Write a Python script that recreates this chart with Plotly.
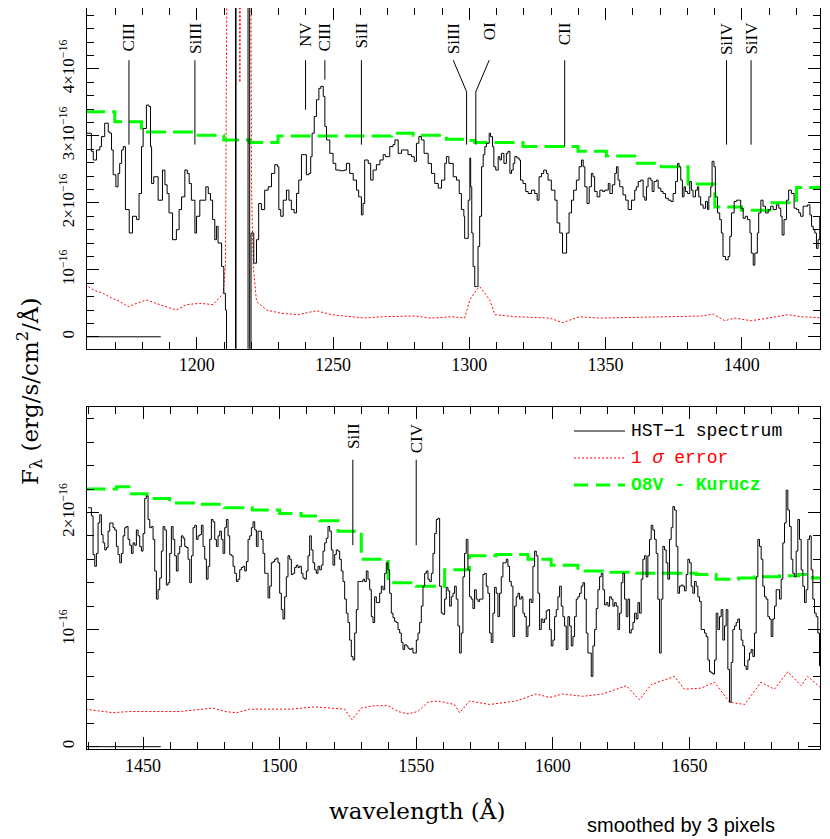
import numpy as np
import plotly.graph_objects as go

# ---------------- top panel (1160-1430 A), flux in units of 1e-16 ----------------
top_wave = [1159.0, 1161.3, 1162.0, 1163.2, 1164.4, 1165.0, 1166.2, 1167.5, 1168.1, 1168.7,
            1169.3, 1170.3, 1171.1, 1171.7, 1172.4, 1173.0, 1173.8, 1175.2, 1176.4, 1177.9,
            1178.8, 1179.7, 1180.3, 1181.5, 1182.4, 1183.0, 1183.4, 1184.2, 1185.8, 1187.4,
            1188.3, 1189.1, 1189.8, 1191.1, 1192.5, 1193.5, 1194.4, 1195.6, 1196.5, 1197.2,
            1198.0, 1199.3, 1199.9, 1201.1, 1203.3, 1204.2, 1205.0, 1205.8, 1206.6, 1207.2,
            1207.8, 1209.1, 1209.9, 1210.5, 1210.9, 1214.0, 1214.2, 1214.4, 1218.7, 1218.8,
            1219.4, 1219.9, 1220.9, 1221.9, 1222.7, 1223.7, 1224.9, 1226.2, 1227.4, 1228.6,
            1229.6, 1230.1, 1230.8, 1231.7, 1232.9, 1233.8, 1234.7, 1235.7, 1236.6, 1237.4,
            1238.4, 1239.4, 1240.2, 1241.1, 1241.8, 1242.3, 1243.1, 1243.9, 1244.8, 1245.5,
            1246.4, 1247.0, 1247.6, 1248.8, 1250.0, 1251.0, 1252.5, 1254.1, 1254.9, 1256.1,
            1257.4, 1258.6, 1259.4, 1260.4, 1261.0, 1261.6, 1262.9, 1263.8, 1264.7, 1265.9,
            1267.2, 1268.4, 1269.2, 1270.8, 1272.0, 1272.7, 1273.9, 1275.1, 1276.3, 1277.5,
            1278.8, 1279.8, 1280.6, 1281.5, 1282.4, 1283.4, 1284.9, 1286.1, 1287.3, 1288.6,
            1289.8, 1291.0, 1291.6, 1292.5, 1294.1, 1295.3, 1296.3, 1297.1, 1298.0, 1298.3,
            1299.0, 1299.6, 1300.2, 1300.5, 1300.9, 1301.4, 1302.0, 1302.6, 1303.2, 1303.8,
            1304.5, 1305.1, 1305.7, 1306.3, 1307.3, 1307.8, 1308.5, 1309.0, 1309.7, 1310.6,
            1311.2, 1311.8, 1312.7, 1313.6, 1314.2, 1314.9, 1315.5, 1316.1, 1316.7, 1317.5,
            1318.3, 1318.8, 1319.7, 1320.7, 1321.6, 1322.8, 1324.0, 1324.9, 1325.6, 1326.5,
            1327.3, 1328.3, 1328.9, 1330.1, 1331.4, 1332.2, 1333.2, 1334.2, 1335.0, 1335.7,
            1336.6, 1337.5, 1338.3, 1339.3, 1340.3, 1341.2, 1341.8, 1342.4, 1343.2, 1344.0,
            1344.8, 1345.4, 1346.0, 1346.9, 1347.9, 1348.9, 1349.7, 1351.0, 1351.6, 1352.5,
            1353.4, 1354.0, 1354.6, 1355.2, 1356.4, 1357.4, 1358.3, 1359.5, 1360.7, 1361.3,
            1362.0, 1362.9, 1363.8, 1364.4, 1365.0, 1365.6, 1366.6, 1367.1, 1367.8, 1368.7,
            1369.3, 1370.3, 1371.1, 1372.0, 1373.0, 1374.0, 1374.8, 1375.7, 1376.4, 1377.0,
            1377.6, 1378.2, 1378.8, 1379.3, 1380.1, 1380.9, 1381.5, 1382.1, 1383.0, 1383.7,
            1384.2, 1384.9, 1385.8, 1386.7, 1387.4, 1387.9, 1388.6, 1389.1, 1389.8, 1390.3,
            1391.1, 1391.9, 1392.5, 1393.1, 1394.0, 1395.0, 1395.6, 1396.2, 1397.2, 1398.0,
            1398.9, 1399.6, 1400.5, 1401.3, 1402.1, 1403.0, 1403.5, 1404.2, 1404.8, 1405.7,
            1406.2, 1407.0, 1407.8, 1408.7, 1409.7, 1410.6, 1411.5, 1412.7, 1413.6, 1414.3,
            1414.8, 1415.5, 1416.4, 1417.2, 1418.2, 1419.2, 1420.1, 1420.9, 1421.6, 1422.5,
            1423.4, 1424.1, 1425.0, 1425.6, 1426.2, 1426.8, 1427.4, 1428.0, 1428.6, 1429.2,
            1429.8]
top_flux = [3.04, 2.77, 2.64, 2.79, 2.84, 2.99, 3.19, 3.06, 3.04, 2.79,
            2.42, 2.24, 2.44, 2.59, 2.79, 2.84, 1.90, 1.55, 1.80, 1.75,
            2.14, 2.84, 3.11, 3.46, 3.44, 2.84, 2.29, 2.39, 2.04, 2.49,
            2.27, 2.14, 1.85, 1.45, 1.60, 1.90, 2.09, 2.49, 2.44, 2.29,
            2.04, 1.55, 1.80, 2.04, 2.24, 2.14, 2.04, 1.75, 1.45, 1.65,
            1.40, 1.05, 0.65, 0.40, -0.6, -0.6, 9.0, -0.6, -0.6, 9.0,
            -0.6, 1.55, 1.10, 1.45, 1.99, 1.90, 2.19, 2.24, 2.44, 2.57,
            2.54, 1.90, 1.80, 2.04, 2.19, 2.04, 1.90, 1.85, 2.14, 2.34,
            2.72, 2.72, 2.42, 2.44, 2.69, 3.04, 3.29, 3.54, 3.71, 3.74,
            3.59, 3.14, 2.94, 2.74, 2.59, 2.49, 2.48, 2.49, 2.59, 2.44,
            2.34, 2.19, 2.09, 1.82, 1.99, 2.64, 2.59, 2.34, 2.49, 2.57,
            2.64, 2.72, 2.69, 2.84, 2.87, 2.94, 2.74, 2.79, 2.79, 2.72,
            2.69, 2.62, 2.89, 2.99, 2.94, 2.74, 2.59, 2.44, 2.29, 2.22,
            2.34, 2.59, 2.69, 2.59, 2.39, 2.34, 2.14, 1.90, 1.80, 1.47,
            1.47, 2.04, 2.67, 2.24, 1.55, 1.05, 0.75, 0.75, 1.35, 1.80,
            2.54, 2.72, 2.84, 2.89, 3.04, 2.99, 2.84, 2.54, 2.49, 2.69,
            2.64, 2.74, 2.59, 2.74, 2.77, 2.44, 2.49, 2.59, 2.69, 2.67,
            2.64, 2.34, 2.29, 2.17, 2.14, 2.19, 2.14, 2.04, 2.39, 2.44,
            2.49, 2.44, 2.34, 2.19, 2.04, 1.70, 1.55, 1.25, 1.25, 1.55,
            1.85, 2.04, 2.19, 2.34, 2.54, 2.64, 2.54, 2.24, 1.99, 2.24,
            2.44, 2.39, 2.17, 2.09, 2.19, 2.17, 2.19, 2.29, 2.14, 2.27,
            2.44, 2.54, 2.34, 2.24, 2.12, 2.04, 1.90, 2.04, 2.19, 2.24,
            2.32, 2.34, 2.09, 2.04, 2.24, 2.37, 2.34, 2.17, 2.32, 2.34,
            2.22, 2.17, 2.14, 2.07, 2.04, 2.02, 2.14, 2.32, 2.59, 2.54,
            2.34, 2.09, 2.24, 2.17, 2.14, 2.32, 2.19, 2.09, 2.19, 2.24,
            2.09, 1.97, 1.92, 2.02, 1.90, 2.09, 2.24, 2.62, 2.54, 2.09,
            1.85, 1.75, 1.55, 1.20, 1.15, 1.20, 1.50, 1.85, 2.02, 2.04,
            2.04, 1.92, 1.77, 1.80, 1.75, 1.55, 1.25, 1.07, 1.25, 1.55,
            1.85, 2.04, 1.95, 1.85, 1.90, 1.95, 1.90, 1.97, 1.92, 1.80,
            1.52, 1.75, 2.04, 2.19, 2.14, 1.92, 1.90, 1.85, 1.80, 1.95,
            1.95, 1.97, 1.82, 1.65, 1.60, 1.55, 1.32, 1.45, 1.80, 1.95,
            1.99]

top_err_wave = [1159.0, 1162.0, 1165.6, 1168.7, 1171.7, 1174.8, 1177.9, 1181.5, 1186.4, 1192.5,
                1196.2, 1201.1, 1206.0, 1209.7, 1210.5, 1211.5, 1215.3, 1215.8, 1216.5, 1219.6,
                1220.1, 1220.7, 1221.9, 1225.6, 1231.1, 1237.2, 1243.9, 1249.4, 1255.5, 1261.6,
                1267.8, 1273.9, 1280.0, 1286.1, 1293.5, 1298.3, 1300.2, 1302.6, 1303.8, 1305.7,
                1307.5, 1309.4, 1317.3, 1329.5, 1334.4, 1336.9, 1340.5, 1347.9, 1361.3, 1373.0,
                1385.2, 1389.5, 1393.8, 1397.4, 1403.5, 1409.7, 1417.0, 1421.9, 1429.2, 1431.0]
top_err = [0.78, 0.70, 0.65, 0.58, 0.53, 0.45, 0.50, 0.55, 0.48, 0.40,
           0.48, 0.50, 0.48, 0.65, 1.05, 9.0, 9.0, 3.8, 9.0, 9.0,
           2.2, 1.05, 0.53, 0.40, 0.35, 0.33, 0.39, 0.33, 0.30, 0.28,
           0.30, 0.31, 0.31, 0.28, 0.30, 0.28, 0.55, 0.70, 0.75, 0.65,
           0.55, 0.33, 0.30, 0.28, 0.21, 0.25, 0.30, 0.28, 0.29, 0.30,
           0.31, 0.34, 0.24, 0.28, 0.24, 0.28, 0.33, 0.30, 0.28, 0.28]

top_model_wave = [1159.0, 1169.9, 1179.7, 1199.3, 1209.9, 1219.4, 1229.8, 1271.4, 1279.4, 1291.6,
                  1299.6, 1302.0, 1319.7, 1339.9, 1350.3, 1360.7, 1370.5, 1380.3, 1390.1, 1399.9,
                  1410.3, 1420.1, 1431.0]
top_model = [3.36, 3.21, 3.06, 3.01, 2.94, 2.90, 3.00, 3.04, 3.01, 2.95,
             2.93, 2.90, 2.84, 2.77, 2.70, 2.59, 2.54, 2.28, 1.94, 1.89,
             2.00, 2.23, 2.23]

# ---------------- bottom panel (1430-1700 A), pixel step 0.61 A ----------------
pix_step = 0.61
seg_start = [1429.89, 1496.36, 1564.05, 1631.74]
seg1 = [2.04, 2.04, 1.97, 1.64, 1.54, 1.65, 1.91, 1.98, 1.81, 1.74, 1.68, 1.70, 1.84, 1.91, 1.91,
        1.87, 1.85, 1.71, 1.64, 1.57, 1.65, 1.80, 1.87, 1.88, 1.77, 1.72, 1.65, 1.74, 1.72, 1.85,
        1.80, 1.71, 1.67, 1.82, 2.12, 2.14, 1.94, 1.87, 1.88, 1.77, 1.50, 1.26, 1.34, 1.44, 1.67,
        1.88, 1.85, 1.38, 1.40, 1.65, 1.88, 1.77, 1.63, 1.50, 1.65, 1.71, 1.80, 1.78, 1.71, 1.70,
        1.60, 1.40, 1.63, 1.87, 1.89, 1.77, 1.80, 1.81, 1.89, 1.71, 1.60, 1.43, 1.54, 1.77, 1.94,
        1.92, 1.77, 1.71, 1.80, 1.84, 1.77, 1.65, 1.87, 1.94, 1.80, 1.64, 1.63, 1.54, 1.48, 1.41,
        1.43, 1.51, 1.53, 1.54, 1.50, 1.58, 1.77, 1.80, 1.87, 1.92, 1.85, 1.71, 1.84, 1.84, 1.77,
        1.65, 1.48, 1.48, 1.27]
seg2 = [1.37, 1.57, 1.58, 1.60, 1.61, 1.57, 1.31, 1.17, 1.09, 1.28, 1.45, 1.63, 1.60, 1.47, 1.48,
        1.53, 1.55, 1.53, 1.54, 1.48, 1.44, 1.43, 1.50, 1.63, 1.80, 1.68, 1.57, 1.51, 1.48, 1.54,
        1.51, 1.55, 1.67, 1.74, 1.78, 1.88, 1.84, 1.68, 1.55, 1.64, 1.68, 1.67, 1.60, 1.50, 1.41,
        1.26, 1.14, 1.06, 0.91, 0.77, 0.74, 0.97, 1.17, 1.41, 1.41, 1.41, 1.43, 1.41, 1.50, 1.43,
        1.34, 1.11, 1.06, 1.28, 1.23, 1.23, 1.31, 1.37, 1.34, 1.48, 1.57, 1.51, 1.31, 1.14, 1.10,
        1.07, 1.06, 1.00, 0.97, 0.89, 0.83, 0.87, 0.86, 0.84, 0.83, 0.84, 0.80, 0.80, 0.91, 0.97,
        1.06, 1.20, 1.37, 1.48, 1.50, 1.43, 1.41, 1.48, 1.65, 1.82, 1.94, 1.95, 1.37, 1.14, 1.13,
        1.26, 1.36, 1.33, 1.20, 1.28, 1.31]
seg3 = [1.37, 1.26, 1.03, 0.80, 0.97, 1.45, 1.65, 1.77, 1.51, 1.28, 1.26, 1.18, 1.34, 1.26, 1.24,
        1.26, 1.26, 1.47, 1.48, 1.37, 1.31, 0.97, 0.89, 1.14, 1.36, 1.31, 1.11, 1.31, 1.45, 1.57,
        1.57, 1.60, 1.54, 1.41, 1.37, 0.94, 1.20, 1.28, 1.31, 1.26, 1.28, 1.14, 1.11, 0.94, 1.03,
        1.26, 1.23, 1.54, 1.67, 1.63, 1.31, 1.00, 1.09, 1.06, 1.09, 1.16, 1.17, 1.00, 0.86, 0.91,
        1.11, 1.17, 1.28, 1.37, 1.20, 1.11, 1.03, 0.83, 1.11, 1.03, 0.86, 0.94, 1.11, 1.26, 1.28,
        1.31, 1.37, 1.40, 1.26, 0.97, 0.80, 0.80, 0.60, 0.86, 1.00, 1.18, 1.34, 1.45, 1.48, 1.34,
        1.21, 1.23, 1.20, 1.28, 1.26, 1.20, 1.23, 1.20, 1.00, 1.14, 1.40, 1.48, 1.26, 1.11, 1.26,
        0.97, 1.00, 1.06, 1.14, 1.09, 1.23]
seg4 = [1.14, 1.43, 1.60, 1.63, 1.45, 1.63, 1.77, 1.89, 1.85, 1.77, 1.65, 1.26, 0.80, 1.26, 1.71,
        1.68, 1.57, 1.43, 1.77, 1.87, 2.05, 2.02, 1.71, 1.31, 1.37, 1.38, 1.37, 1.33, 1.47, 1.60,
        1.57, 1.37, 1.31, 1.41, 1.37, 1.28, 1.24, 1.00, 1.00, 0.97, 0.94, 0.74, 0.64, 0.63, 0.62,
        0.74, 1.14, 1.00, 1.11, 1.17, 0.91, 1.03, 1.17, 0.66, 0.38, 0.72, 1.00, 1.03, 1.06, 1.09,
        1.00, 0.91, 0.86, 0.69, 0.66, 0.74, 0.80, 0.83, 0.77, 0.97, 1.45, 1.77, 1.71, 1.60, 1.37,
        1.28, 1.26, 1.11, 1.09, 0.94, 1.09, 1.20, 1.34, 1.34, 1.26, 1.43, 1.74, 1.91, 2.19, 2.02,
        1.88, 1.60, 1.48, 1.45, 1.67, 1.94, 1.77, 1.51, 1.37, 1.23, 1.34, 1.77, 1.80, 1.51, 1.26,
        1.14, 1.11, 0.97, 0.69, 0.80, 0.89]

bot_err_wave = [1429.0, 1439.0, 1445.1, 1451.2, 1457.3, 1463.4, 1472.0, 1475.6, 1479.9, 1484.2,
                1489.0, 1493.9, 1504.3, 1512.8, 1518.9, 1523.8, 1526.5, 1529.9, 1534.8, 1539.7,
                1543.3, 1547.0, 1550.6, 1554.3, 1557.9, 1564.0, 1565.9, 1569.5, 1576.9, 1586.6,
                1593.9, 1598.8, 1603.7, 1611.0, 1618.3, 1626.9, 1631.7, 1636.0, 1644.5, 1648.2,
                1654.3, 1659.2, 1664.7, 1670.2, 1676.2, 1681.1, 1686.0, 1690.9, 1693.3, 1698.2]
bot_err = [0.32, 0.29, 0.30, 0.30, 0.30, 0.30, 0.32, 0.33, 0.30, 0.29,
           0.32, 0.32, 0.32, 0.34, 0.33, 0.32, 0.23, 0.33, 0.35, 0.35,
           0.30, 0.28, 0.30, 0.38, 0.39, 0.36, 0.29, 0.39, 0.36, 0.39,
           0.45, 0.42, 0.45, 0.43, 0.45, 0.52, 0.40, 0.53, 0.60, 0.49,
           0.50, 0.55, 0.38, 0.36, 0.55, 0.49, 0.64, 0.52, 0.60, 0.50]

bot_model_wave = [1429.0, 1440.3, 1445.7, 1451.5, 1459.8, 1469.5, 1479.8, 1490.0, 1500.0, 1507.9,
                  1514.7, 1521.4, 1529.9, 1539.7, 1550.0, 1560.4, 1569.5, 1579.3, 1590.9, 1599.4,
                  1609.2, 1619.5, 1630.0, 1652.5, 1659.8, 1668.0, 1674.0, 1683.0, 1690.0, 1695.0,
                  1700.0]
bot_model = [2.20, 2.22, 2.16, 2.12, 2.08, 2.07, 2.04, 2.02, 1.99, 1.97,
             1.93, 1.84, 1.60, 1.40, 1.37, 1.51, 1.63, 1.64, 1.60, 1.55,
             1.50, 1.49, 1.48, 1.47, 1.43, 1.44, 1.45, 1.46, 1.47, 1.44,
             1.44]

# line identifications
top_ids = ["CIII", "SiIII", "NV", "CIII", "SiII", "SiIII", "OI", "CII", "SiIV", "SiIV"]
top_id_wave = [1175.1, 1199.3, 1239.9, 1247.0, 1260.4, 1299.0, 1302.4, 1335.0, 1394.4, 1403.4]
top_id_label = [1175.1, 1199.3, 1239.9, 1247.0, 1260.4, 1294.1, 1307.3, 1335.0, 1394.4, 1403.4]
top_id_low = [2.87, 2.87, 3.39, 3.84, 2.87, 2.87, 2.87, 2.84, 2.87, 2.87]
bot_ids = ["SiII", "CIV"]
bot_id_wave = [1526.8, 1550.0]

bot_wave = np.concatenate([s0 + pix_step * np.arange(len(s)) for s0, s in zip(seg_start, [seg1, seg2, seg3, seg4])])
bot_flux = np.concatenate([seg1, seg2, seg3, seg4])

BLACK = "black"
RED = "#ff0000"
GREEN = "#00ff00"
SERIF = "Liberation Serif"
GDASH = "20px,7px"

fig = go.Figure()

def add_panel(xa, ya, wave, flux, ew, err, mw, model):
    fig.add_trace(go.Scatter(x=ew, y=err, mode="lines", xaxis=xa, yaxis=ya,
                             line=dict(color=RED, width=1, dash="2px,2px"), hoverinfo="skip"))
    fig.add_trace(go.Scatter(x=mw, y=model, mode="lines", xaxis=xa, yaxis=ya, line_shape="hv",
                             line=dict(color=GREEN, width=3, dash=GDASH), hoverinfo="skip"))
    fig.add_trace(go.Scatter(x=wave, y=flux, mode="lines", xaxis=xa, yaxis=ya, line_shape="hv",
                             line=dict(color=BLACK, width=1), hoverinfo="skip"))

add_panel("x", "y", top_wave, top_flux, top_err_wave, top_err, top_model_wave, top_model)
add_panel("x2", "y2", bot_wave, bot_flux, bot_err_wave, bot_err, bot_model_wave, bot_model)

axis_common = dict(showline=True, linecolor=BLACK, linewidth=1, mirror="allticks",
                   ticks="inside", ticklen=12, tickwidth=1, tickcolor=BLACK,
                   showgrid=False, zeroline=False,
                   tickfont=dict(family=SERIF, size=18, color=BLACK))
xminor = dict(dtick=10, ticklen=7, ticks="inside", tickcolor=BLACK, showgrid=False)
yminor = dict(dtick=0.2, ticklen=7, ticks="inside", tickcolor=BLACK, showgrid=False)
yfont = dict(family=SERIF, size=17, color=BLACK)

# the page body has an 8px margin, so the figure is shrunk by that much
fig.update_layout(
    width=822, height=831, showlegend=False,
    plot_bgcolor="white", paper_bgcolor="white",
    margin=dict(l=79, r=10, t=0, b=90),
    xaxis=dict(axis_common, domain=[0, 1], anchor="y", range=[1159.7, 1428.7],
               tick0=1200, dtick=50, minor=xminor),
    yaxis=dict(axis_common, domain=[0.54, 1], anchor="x", range=[-0.18, 4.91],
               tickvals=[0, 1, 2, 3, 4],
               ticktext=["0", "10<sup>−16</sup>", "2×10<sup>−16</sup>", "3×10<sup>−16</sup>", "4×10<sup>−16</sup>"],
               tickangle=-90, tickfont=yfont, ticklabelstandoff=5, minor=yminor),
    xaxis2=dict(axis_common, domain=[0, 1], anchor="y2", range=[1429.5, 1697.8],
                tick0=1450, dtick=50, minor=xminor),
    yaxis2=dict(axis_common, domain=[0, 0.4615], anchor="x2", range=[-0.02, 2.9],
                tickvals=[0, 1, 2],
                ticktext=["0", "10<sup>−16</sup>", "2×10<sup>−16</sup>"],
                tickangle=-90, tickfont=yfont, ticklabelstandoff=5, minor=yminor),
)

shapes = []
ann = []
# zero reference segments
shapes.append(dict(type="line", xref="x", yref="y", x0=1159.7, x1=1186.8, y0=0, y1=0,
                   line=dict(color=BLACK, width=1)))
shapes.append(dict(type="line", xref="x2", yref="y2", x0=1429.5, x1=1456.5, y0=0, y1=0,
                   line=dict(color=BLACK, width=1)))

# line IDs in top panel
for name, w, wl, low in zip(top_ids, top_id_wave, top_id_label, top_id_low):
    if w != wl:
        shapes.append(dict(type="line", xref="x", yref="y", x0=wl, x1=w, y0=4.13, y1=3.66,
                           line=dict(color=BLACK, width=1)))
        shapes.append(dict(type="line", xref="x", yref="y", x0=w, x1=w, y0=3.66, y1=low,
                           line=dict(color=BLACK, width=1)))
    else:
        shapes.append(dict(type="line", xref="x", yref="y", x0=w, x1=w, y0=4.13, y1=low,
                           line=dict(color=BLACK, width=1)))
    ann.append(dict(x=wl, y=4.73, xref="x", yref="y", text=name, showarrow=False,
                    textangle=-90, xanchor="center", yanchor="top",
                    font=dict(family=SERIF, size=17, color=BLACK)))

for name, w in zip(bot_ids, bot_id_wave):
    shapes.append(dict(type="line", xref="x2", yref="y2", x0=w, x1=w, y0=2.45, y1=1.72,
                       line=dict(color=BLACK, width=1)))
    ann.append(dict(x=w, y=2.78, xref="x2", yref="y2", text=name, showarrow=False,
                    textangle=-90, xanchor="center", yanchor="top",
                    font=dict(family=SERIF, size=17, color=BLACK)))

# page pixel -> paper fraction (plot area spans x 87..820, y 8..749 on the page)
def px(xp):
    return (xp - 87) / 733.0

def py(yp):
    return (749 - yp) / 741.0

leg = [("HST−1 spectrum", BLACK, dict(color=BLACK, width=1), False),
       ("1 <i>σ</i> error", RED, dict(color=RED, width=1, dash="2px,2px"), False),
       ("O8V - Kurucz", GREEN, dict(color=GREEN, width=3, dash="14px,8px"), True)]
for i, (txt, col, ln, bold) in enumerate(leg):
    yy = py(431 + 27 * i)
    shapes.append(dict(type="line", xref="paper", yref="paper", x0=px(574), x1=px(625),
                       y0=yy, y1=yy, line=ln))
    ann.append(dict(x=px(629), y=yy, xref="paper", yref="paper", xanchor="left", yanchor="middle",
                    text=f"<b>{txt}</b>" if bold else txt, showarrow=False,
                    font=dict(family="Liberation Mono", size=18, color=col)))

ann.append(dict(x=px(417), y=py(810), xref="paper", yref="paper", text="wavelength (Å)",
                xanchor="center", yanchor="middle",
                showarrow=False, font=dict(family="DejaVu Serif", size=23, color=BLACK)))
ann.append(dict(x=px(29), y=py(392), xref="paper", yref="paper",
                text="F<sub>λ</sub> (erg/s/cm<sup>2</sup>/Å)", textangle=-90,
                xanchor="center", yanchor="middle",
                showarrow=False, font=dict(family="DejaVu Serif", size=23, color=BLACK)))
ann.append(dict(x=px(681), y=py(825), xref="paper", yref="paper", text="smoothed by 3 pixels",
                xanchor="center", yanchor="middle",
                showarrow=False, font=dict(family="Liberation Sans", size=20, color=BLACK)))

fig.update_layout(shapes=shapes, annotations=ann)
fig.write_html("out.html")
